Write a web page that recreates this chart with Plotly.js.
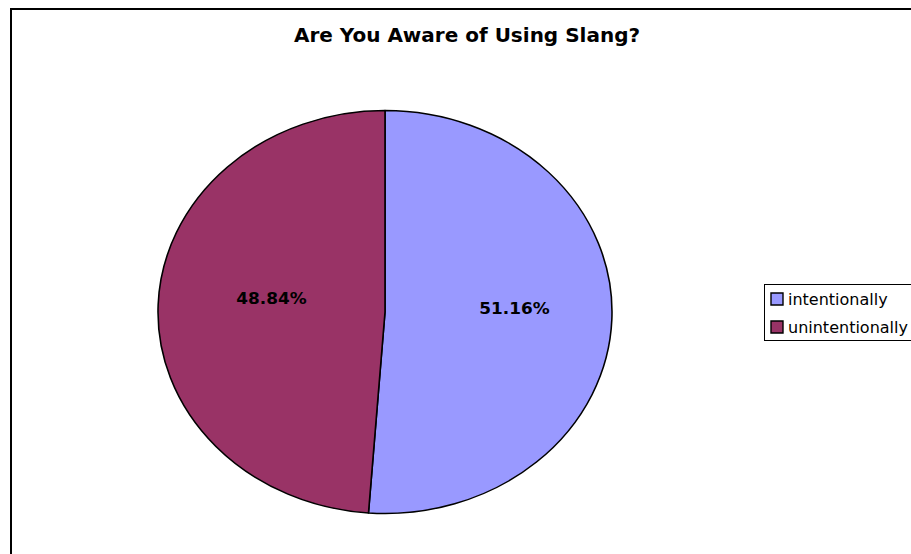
<!DOCTYPE html>
<html>
<head>
<meta charset="utf-8">
<script src="https://cdn.plot.ly/plotly-3.0.1.min.js"></script>
<style>
html, body { margin: 0; padding: 0; background: #ffffff; }
#chart { width: 911px; height: 554px; }
</style>
</head>
<body>
<div id="chart"></div>
<script>
// Data
var categories = ["intentionally", "unintentionally"];
var values = [51.16, 48.84];
var sliceColors = ["#9999FF", "#993366"];
var chartTitle = "Are You Aware of Using Slang?";

var W = 911, H = 554;
var cx = 385, cy = 312, ry = 201.5, rx = 227;

var trace = {
  type: "pie",
  labels: categories,
  values: values,
  sort: false,
  direction: "clockwise",
  rotation: 0,
  marker: { colors: sliceColors, line: { color: "#000000", width: 1.4 } },
  textinfo: "percent",
  texttemplate: "%{percent:.2%}",
  textposition: "inside",
  insidetextorientation: "horizontal",
  textfont: { family: "DejaVu Sans", size: 15, color: "#000000", weight: "bold" },
  hoverinfo: "label+percent",
  domain: {
    x: [(cx - ry) / W, (cx + ry) / W],
    y: [(H - cy - ry) / H, (H - cy + ry) / H]
  }
};

var layout = {
  width: W, height: H,
  margin: { l: 0, r: 0, t: 0, b: 0, autoexpand: false },
  paper_bgcolor: "#ffffff",
  plot_bgcolor: "#ffffff",
  font: { family: "DejaVu Sans", color: "#000000" },
  title: {
    text: "<b>" + chartTitle + "</b>",
    font: { family: "DejaVu Sans", size: 20, color: "#000000" },
    x: 467 / W, xanchor: "center", xref: "container",
    y: 1 - 35 / H, yanchor: "middle", yref: "container"
  },
  showlegend: true,
  legend: {
    x: 764 / W, xanchor: "left",
    y: 1 - 284 / H, yanchor: "top",
    bordercolor: "#000000", borderwidth: 1,
    bgcolor: "#ffffff",
    font: { family: "DejaVu Sans", size: 16, color: "#000000" }
  },
  shapes: [{
    type: "rect", xref: "paper", yref: "paper",
    x0: 11 / W, x1: 1.05, y0: -0.05, y1: 1 - 9 / H,
    line: { color: "#000000", width: 2 }, fillcolor: "rgba(0,0,0,0)", layer: "above"
  }]
};

// label nudges (screen px) to match reference placement: [intentionally, unintentionally]
var labelNudge = [[16, -7], [0, -9]];

Plotly.newPlot("chart", [trace], layout, { displayModeBar: false, staticPlot: true }).then(function (gd) {
  var sx = rx / ry;
  var g = gd.querySelector(".pielayer .trace");
  if (g) {
    g.setAttribute("transform", "translate(" + cx + "," + cy + ") scale(" + sx + ",1) translate(" + (-cx) + "," + (-cy) + ")");
    var texts = g.querySelectorAll("g.slice g.slicetext");
    texts.forEach(function (t, i) {
      var n = labelNudge[i] || [0, 0];
      var old = t.getAttribute("transform") || "";
      t.setAttribute("transform", "translate(" + (n[0] / sx) + "," + n[1] + ") " + old);
    });
  }
  // legend item layout tweaks
  var items = gd.querySelectorAll(".legend .traces");
  var itemY = [15, 43];
  items.forEach(function (it, i) {
    it.setAttribute("transform", "translate(1," + itemY[i] + ")");
    var txt = it.querySelector("text.legendtext");
    if (txt) txt.setAttribute("x", 23);
    var pts = it.querySelector(".legendpoints");
    if (pts) pts.setAttribute("transform", "translate(-8,0) ");
  });
  var bg = gd.querySelector(".legend rect.bg");
  if (bg) { bg.setAttribute("height", 56); bg.setAttribute("width", 200); }
});
</script>
</body>
</html>
